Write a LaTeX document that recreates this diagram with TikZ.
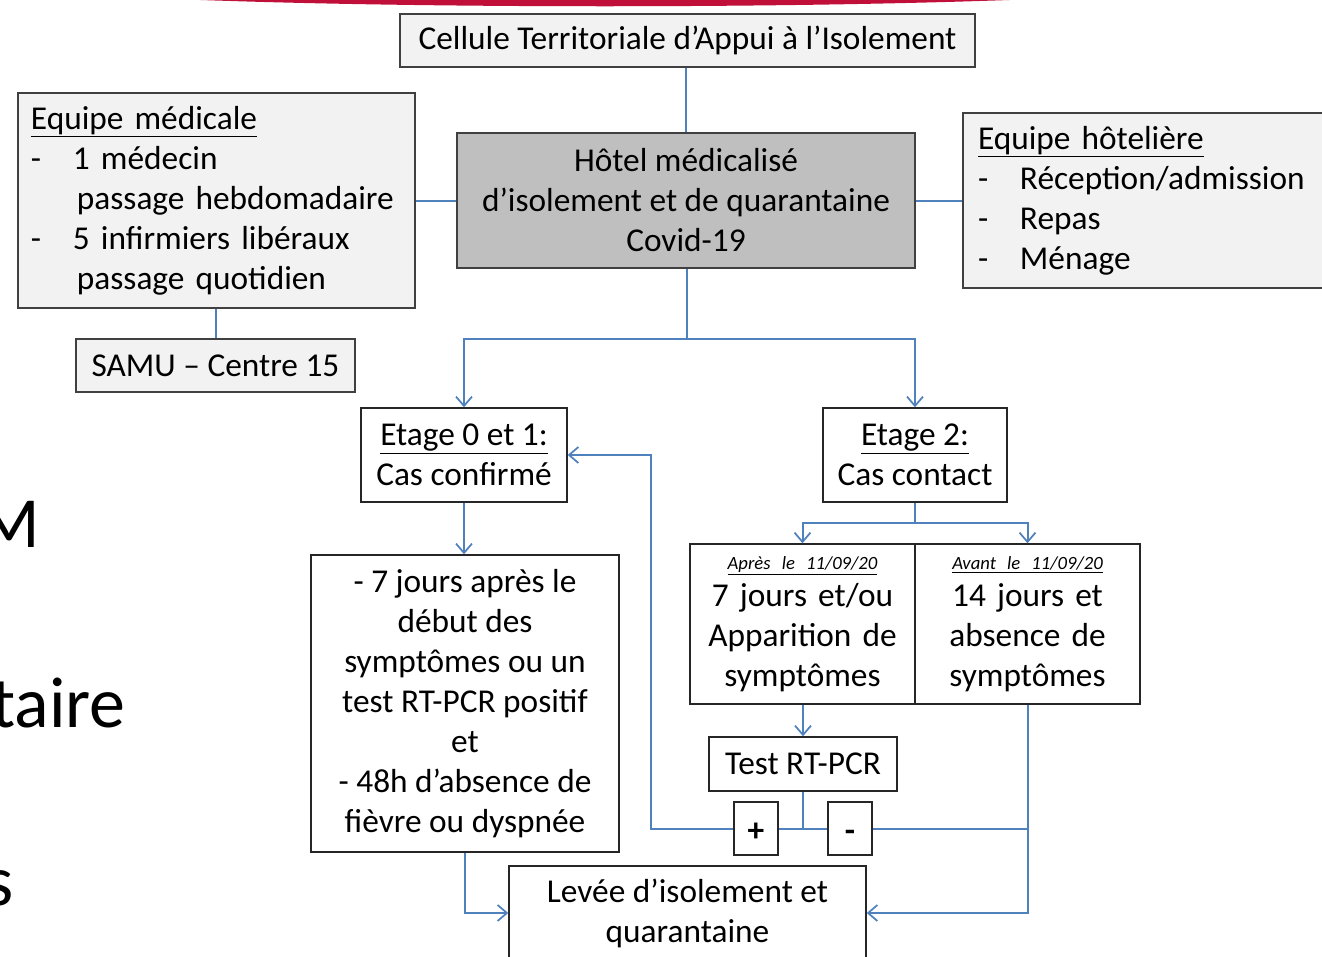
\documentclass[tikz,border=0pt]{standalone}
\usepackage{fontspec}
\setmainfont{Carlito}
\usepackage{xcolor}
\usepackage{tikz}
\usetikzlibrary{arrows, arrows.meta}
\pgfdeclarelayer{bg}
\pgfsetlayers{bg,main}

\definecolor{linkblue}{RGB}{79,129,189}
\definecolor{bandred}{RGB}{192,16,58}
\definecolor{boxline}{RGB}{64,64,64}
\pgfdeclarehorizontalshading{bandfade}{100bp}{color(0bp)=(white); color(30bp)=(bandred); color(70bp)=(bandred); color(100bp)=(white)}

\tikzset{
	boxlight/.style={draw=boxline, fill=black!5, line width=1.1pt, inner sep=0pt, font=\fontsize{25}{30}\selectfont},
	boxdark/.style={draw=boxline, fill=black!25, line width=1.1pt, inner sep=0pt, align=center, font=\fontsize{25}{30}\selectfont},
	boxwhite/.style={draw=black!85, fill=white, line width=1.1pt, inner sep=0pt, align=center, font=\fontsize{25}{30}\selectfont},
	link/.style={draw=linkblue, line width=1.5pt},
	flow/.style={link, -{Straight Barb[length=7pt,width=12pt,line width=1.3pt]}},
	slidetext/.style={inner sep=0pt, font=\fontsize{54}{60}\selectfont},
}

\begin{document}
\begin{tikzpicture}[x=0.75pt, y=-0.75pt]
				\useasboundingbox (0,0) rectangle (1322,957);
				\clip (0,0) rectangle (1322,957);
				% slide behind the chart
				\shade[shading=bandfade] (150,-2) .. controls (400,9) and (810,9) .. (1060,-2) -- cycle;
				\node[slidetext, anchor=base east] (bgM) at (40,547) {M};
				\node[slidetext, anchor=base east] (bgtaire) at (126,727) {taire};
				\node[slidetext, anchor=base east] (bgs) at (14,905) {s};
				% top part
				\node[boxlight, minimum width=431.25pt, minimum height=39.75pt] (cellule) at (687.5,40.5) {Cellule Territoriale d’Appui à l’Isolement};
				\node[boxdark, minimum width=343.5pt, minimum height=101.25pt] (hotel) at (686,200.5) {Hôtel médicalisé\\d’isolement et de quarantaine\\Covid-19};
				\node[boxlight, minimum width=297.75pt, minimum height=161.25pt, text width=278.25pt, align=left] (medic) at (216.5,200.5) {\underline{Equipe médicale}\\\makebox[31.5pt][l]{-}1 médecin\\\hspace*{34.5pt}passage hebdomadaire\\\makebox[31.5pt][l]{-}5 infirmiers libéraux\\\hspace*{34.5pt}passage quotidien};
				\node[boxlight, minimum width=282.75pt, minimum height=131.25pt, text width=260.25pt, align=left] (hoteliere) at (1151.5,200.5) {\underline{Equipe hôtelière}\\\makebox[31.5pt][l]{-}Réception/admission\\\makebox[31.5pt][l]{-}Repas\\\makebox[31.5pt][l]{-}Ménage};
				\node[boxlight, minimum width=209.25pt, minimum height=39.75pt] (samu) at (215.5,365.5) {SAMU – Centre 15};
				% floors
				\node[boxwhite, minimum width=154.5pt, minimum height=70.5pt] (etage0) at (464,455) {\underline{Etage 0 et 1:}\\Cas confirmé};
				\node[boxwhite, minimum width=138pt, minimum height=70.5pt] (etage2) at (915,455) {\underline{Etage 2:}\\Cas contact};
				\node[boxwhite, minimum width=231pt, minimum height=222.75pt] (confirme) at (465,703.5) {- 7 jours après le\\début des\\symptômes ou un\\test RT-PCR positif\\et\\- 48h d’absence de\\fièvre ou dyspnée};
				\node[boxwhite, minimum width=168.75pt, minimum height=120pt, text width=168.75pt] (apres) at (802.5,624) {{\fontsize{14}{17}\selectfont\itshape\underline{Après le 11/09/20}}\\[-2pt]7 jours et/ou\\Apparition de\\symptômes};
				\node[boxwhite, minimum width=168.75pt, minimum height=120pt, text width=168.75pt] (avant) at (1027.5,624) {{\fontsize{14}{17}\selectfont\itshape\underline{Avant le 11/09/20}}\\[-2pt]14 jours et\\absence de\\symptômes};
				\node[boxwhite, minimum width=141pt, minimum height=40.5pt] (pcr) at (803,764) {Test RT-PCR};
				\node[boxwhite, minimum width=33pt, minimum height=39.75pt] (plus) at (756,828.5) {\smash{\raisebox{-9.4pt}{\textbf{+}}}};
				\node[boxwhite, minimum width=33pt, minimum height=39.75pt] (minus) at (850,828.5) {\smash{\raisebox{-10pt}{\textbf{-}}}};
				\node[boxwhite, minimum width=267.75pt, minimum height=70.5pt] (levee) at (687.5,913) {Levée d’isolement et\\quarantaine};
				% joints
				\coordinate (split1) at (687,339);
				\coordinate (split2) at (915,523);
				\coordinate (retour) at (651,455);
				\coordinate (negjoin) at (1028,828.5);
				% connectors
				\draw[link] (cellule.south -| hotel.north) -- (hotel.north);
				\draw[link] (medic.east) -- (hotel.west);
				\draw[link] (hotel.east) -- (hoteliere.west);
				\draw[link] (samu.north |- medic.south) -- (samu.north);
				\draw[link] (hotel.south -| split1) -- (split1);
				\draw[flow] (split1) -| (etage0.north);
				\draw[flow] (split1) -| (etage2.north);
				\draw[flow] (etage0.south) -- (etage0.south |- confirme.north);
				\draw[link] (etage2.south) -- (split2);
				\draw[flow] (split2) -| (apres.north);
				\draw[flow] (split2) -| (avant.north);
				\draw[flow] (pcr.north |- apres.south) -- (pcr.north);
				\draw[link] (pcr.south) -- (pcr.south |- plus.east);
				\draw[link] (plus.east) -- (minus.west);
				\draw[flow] (plus.west) -| (retour) -- (etage0.east);
				\draw[link] (minus.east) -- (negjoin);
				\draw[flow] (avant.south) |- (levee.east);
				\draw[flow] (confirme.south) |- (levee.west);
			\end{tikzpicture}
\end{document}
